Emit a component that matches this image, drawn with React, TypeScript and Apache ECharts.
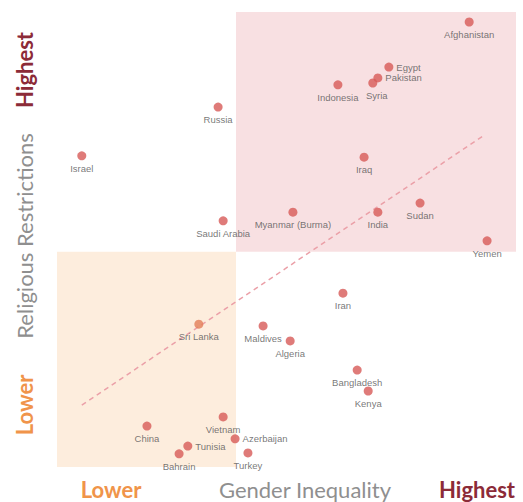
import React, { useEffect, useRef } from "react";
import * as echarts from "echarts";

const countries = [
  "Afghanistan", "Egypt", "Pakistan", "Syria", "Indonesia", "Russia", "Israel", "Iraq",
  "Saudi Arabia", "Myanmar (Burma)", "India", "Sudan", "Yemen", "Iran", "Sri Lanka",
  "Maldives", "Algeria", "Bangladesh", "Kenya", "Vietnam", "China", "Tunisia", "Bahrain",
  "Azerbaijan", "Turkey",
];
const genderInequality = [
  89.8, 72.3, 69.9, 68.8, 61.2, 35.1, 5.4, 66.9,
  36.2, 51.4, 69.9, 79.1, 93.7, 62.3, 30.9,
  44.9, 50.8, 65.4, 67.8, 36.2, 19.6, 28.5, 26.6,
  38.8, 41.6,
];
const religiousRestrictions = [
  97.8, 87.9, 85.5, 84.4, 84.0, 79.1, 68.4, 68.1,
  54.1, 56.0, 56.0, 58.0, 49.7, 38.2, 31.4,
  31.0, 27.7, 21.3, 16.7, 11.0, 9.0, 4.6, 2.9,
  6.2, 3.1,
];
const labelSide = [
  "bottom", "right", "right", "bottom", "bottom", "bottom", "bottom", "bottom",
  "bottom", "bottom", "bottom", "bottom", "bottom", "bottom", "bottom",
  "bottom", "bottom", "bottom", "bottom", "bottom", "bottom", "right", "bottom",
  "right", "bottom",
];
const trendX = [5.4, 93.2];
const trendY = [13.6, 73.0];
const splitX = 39;
const splitY = 47.3;

export default function App() {
  const ref = useRef<HTMLDivElement>(null);
  useEffect(() => {
    if (!ref.current) return;
    const chart = echarts.init(ref.current, null, { renderer: "svg" });
    const labelFont = "Liberation Sans";
    const data = countries.map((name, i) => {
      const side = labelSide[i];
      const item: any = {
        name,
        value: [genderInequality[i], religiousRestrictions[i]],
        label: {
          show: true,
          position: side,
          distance: side === "right" ? 3 : 3,
          formatter: "{b}",
        },
      };
      if (name === "Sri Lanka") item.itemStyle = { color: "#e27d58" };
      if (name === "Syria") item.label.offset = [4, 0];
      return item;
    });
    chart.setOption({
      animation: false,
      grid: { left: 57, right: 7, top: 12, bottom: 35 },
      xAxis: {
        type: "value", min: 0, max: 100,
        show: false, splitLine: { show: false },
      },
      yAxis: {
        type: "value", min: 0, max: 100,
        show: false, splitLine: { show: false },
      },
      series: [
        {
          type: "scatter",
          data: [],
          silent: true,
          markArea: {
            silent: true,
            data: [
              [
                { coord: [splitX, splitY], itemStyle: { color: "#f8e0e2" } },
                { coord: [100, 100] },
              ],
              [
                { coord: [0, 0], itemStyle: { color: "#fdeddd" } },
                { coord: [splitX, splitY] },
              ],
            ],
          },
        },
        {
          type: "line",
          data: trendX.map((x, i) => [x, trendY[i]]),
          symbol: "none",
          silent: true,
          lineStyle: { color: "#eba0a8", width: 1.5, type: [5, 4] },
          z: 3,
        },
        {
          type: "scatter",
          data,
          symbolSize: 9,
          itemStyle: { color: "#d75a58" },
          label: {
            color: "#555555",
            fontSize: 9.5,
            fontFamily: labelFont,
          },
          z: 4,
        },
      ],
      graphic: [
        {
          type: "text", x: 24, y: 70, rotation: Math.PI / 2,
          style: {
            text: "Highest", fill: "#8c2b38", font: "bold 22px Lato",
            align: "center", verticalAlign: "middle",
          },
        },
        {
          type: "text", x: 24, y: 236, rotation: Math.PI / 2,
          style: {
            text: "Religious Restrictions", fill: "#8f8f8f", font: "22px Lato",
            align: "center", verticalAlign: "middle",
          },
        },
        {
          type: "text", x: 24, y: 405, rotation: Math.PI / 2,
          style: {
            text: "Lower", fill: "#f0944a", font: "bold 22px Lato",
            align: "center", verticalAlign: "middle",
          },
        },
        {
          type: "text", x: 111, y: 489,
          style: {
            text: "Lower", fill: "#f0944a", font: "bold 22px Lato",
            align: "center", verticalAlign: "middle",
          },
        },
        {
          type: "text", x: 305, y: 489,
          style: {
            text: "Gender Inequality", fill: "#8f8f8f", font: "22px Lato",
            align: "center", verticalAlign: "middle",
          },
        },
        {
          type: "text", x: 477, y: 489,
          style: {
            text: "Highest", fill: "#8c2b38", font: "bold 22px Lato",
            align: "center", verticalAlign: "middle",
          },
        },
      ],
    });
    return () => chart.dispose();
  }, []);
  return <div ref={ref} style={{ width: 523, height: 502, position: "absolute", left: 0, top: 0 }} />;
}
